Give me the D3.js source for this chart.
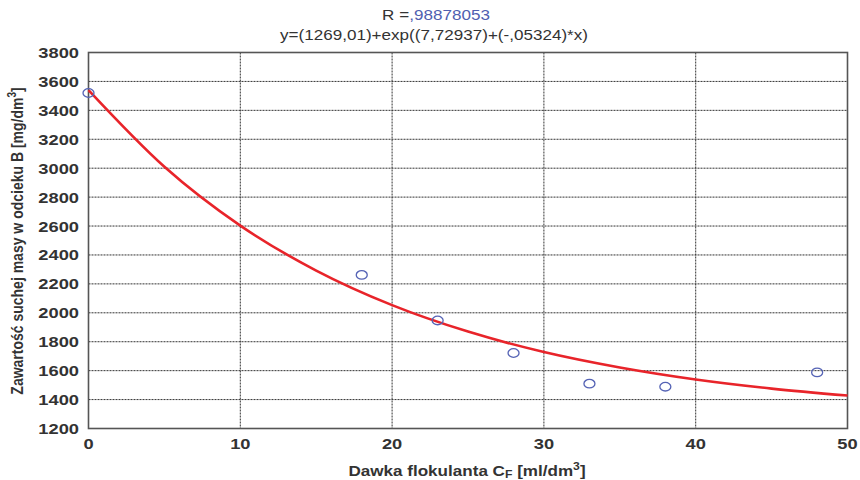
<!DOCTYPE html>
<html>
<head>
<meta charset="utf-8">
<script src="https://cdn.jsdelivr.net/npm/d3@7"></script>
<style>
  body{margin:0;background:#fff;}
  text{font-family:"Liberation Sans",Arial,sans-serif;}
</style>
</head>
<body>
<svg id="chart" width="860" height="480"></svg>
<script>
// measured points
var doseX=[0,18,23,28,33,38,48];
var massY=[3520,2262,1947,1722,1510,1489,1588];
// fitted curve
var fitX=[0,5,10,15,20,25,30,35,40,45,50];
var fitY=[3540,3010,2603,2292,2053,1870,1729,1622,1539,1476,1428];
var xTicks=[0,10,20,30,40,50];
var yTicks=[1200,1400,1600,1800,2000,2200,2400,2600,2800,3000,3200,3400,3600,3800];

var svg=d3.select('#chart');
var pL=88.5,pR=847.5,pT=52.5,pB=428.5;
var stretch=1.22; // the original text is drawn a bit wide

var x=d3.scaleLinear().domain([0,50]).range([pL,pR]);
var y=d3.scaleLinear().domain([1200,3800]).range([pB,pT]);

function wideText(px,py,anchor,size,bold){
  return svg.append('g').attr('transform','translate('+px+','+py+') scale('+stretch+',1)')
    .append('text').attr('text-anchor',anchor).attr('font-size',size)
    .attr('font-weight',bold?'bold':'normal').attr('fill','#333');
}

// grid
svg.append('g').selectAll('line')
  .data(xTicks.slice(1,-1)).enter().append('line')
  .attr('x1',d=>x(d)).attr('x2',d=>x(d))
  .attr('y1',pT).attr('y2',pB)
  .attr('stroke','#333').attr('stroke-width',1).attr('stroke-dasharray','2,1');
svg.append('g').selectAll('line')
  .data(yTicks.slice(1,-1)).enter().append('line')
  .attr('x1',pL).attr('x2',pR)
  .attr('y1',d=>y(d)).attr('y2',d=>y(d))
  .attr('stroke','#333').attr('stroke-width',1).attr('stroke-dasharray','2,1');

// frame
svg.append('rect').attr('x',pL).attr('y',pT)
  .attr('width',pR-pL).attr('height',pB-pT)
  .attr('fill','none').attr('stroke','#555').attr('stroke-width',1.6);

// tick labels
xTicks.forEach(function(t){
  wideText(x(t),449,'middle',15,true).text(t);
});
yTicks.forEach(function(t){
  wideText(79,y(t)+5.5,'end',15,true).text(t);
});

// curve
var fit=fitX.map((v,i)=>({x:v,y:fitY[i]}));
var line=d3.line().x(d=>x(d.x)).y(d=>y(d.y)).curve(d3.curveMonotoneX);
svg.append('path').datum(fit).attr('d',line)
  .attr('fill','none').attr('stroke','#e8242a').attr('stroke-width',2.6);

// points
svg.append('g').selectAll('ellipse')
  .data(doseX.map((v,i)=>({x:v,y:massY[i]}))).enter().append('ellipse')
  .attr('cx',d=>x(d.x)).attr('cy',d=>y(d.y))
  .attr('rx',5.5).attr('ry',4.3)
  .attr('fill','none').attr('stroke','#5563b5').attr('stroke-width',1.3);

// titles
var t1=wideText(436,20,'middle',14,false);
t1.append('tspan').text('R =');
t1.append('tspan').attr('fill','#5060b0').text(',98878053');
wideText(434,40,'middle',14,false).text('y=(1269,01)+exp((7,72937)+(-,05324)*x)');

var xt=wideText(467,476,'middle',14,true);
xt.append('tspan').text('Dawka flokulanta C');
xt.append('tspan').attr('font-size',10).attr('dy',2).text('F');
xt.append('tspan').attr('dy',-2).text(' [ml/dm');
xt.append('tspan').attr('font-size',10).attr('dy',-6).text('3');
xt.append('tspan').attr('dy',6).text(']');

var yt=svg.append('g').attr('transform','translate(23,241) rotate(-90) scale(1,'+stretch+')')
  .append('text').attr('text-anchor','middle')
  .attr('font-size',14).attr('font-weight','bold').attr('fill','#333');
yt.append('tspan').text('Zawartość suchej masy w odcieku B [mg/dm');
yt.append('tspan').attr('font-size',10).attr('dy',-6).text('3');
yt.append('tspan').attr('dy',6).text(']');
</script>
</body>
</html>
